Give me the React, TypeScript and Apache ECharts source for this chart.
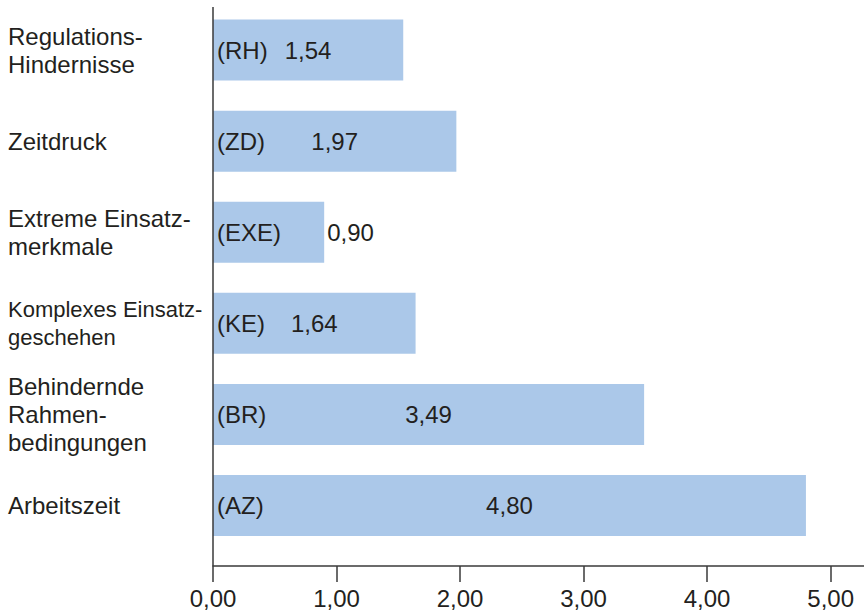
import React, { useEffect, useRef } from "react";
import * as echarts from "echarts";

const categories = [
  "Regulations-\nHindernisse",
  "Zeitdruck",
  "Extreme Einsatz-\nmerkmale",
  "Komplexes Einsatz-\ngeschehen",
  "Behindernde\nRahmen-\nbedingungen",
  "Arbeitszeit",
];
const codes = ["(RH)", "(ZD)", "(EXE)", "(KE)", "(BR)", "(AZ)"];
const values = [1.54, 1.97, 0.9, 1.64, 3.49, 4.8];
const tickValues = [0, 1, 2, 3, 4, 5];

const FONT = "'Liberation Sans', Arial, Helvetica, sans-serif";
const FONT_SIZE = 24;
const TEXT = "#231f20";
const BAR = "#abc8e9";
const AXIS = "#3a3a3a";

const GRID_LEFT = 213;
const GRID_TOP = 4.5;
const GRID_BOTTOM = 62;
const X_OFFSET = 15;
const AXIS_TOP = 7;
// widest category label: set a touch smaller so it stays clear of the axis
const LONG_LABEL_SIZE = 22;

const fmt = (v: number) => v.toFixed(2).replace(".", ",");

export default function App() {
  const ref = useRef<HTMLDivElement>(null);

  useEffect(() => {
    if (!ref.current) return;
    const chart = echarts.init(ref.current, undefined, { renderer: "svg" });
    const h = 613;
    const axisBottom = h - GRID_BOTTOM + X_OFFSET;

    const labelStyle = {
      align: "left",
      color: TEXT,
      fontSize: FONT_SIZE,
      lineHeight: 28,
      fontFamily: FONT,
    };
    const yData = categories.map((c) =>
      c.startsWith("Komplexes")
        ? { value: c, textStyle: { ...labelStyle, fontSize: LONG_LABEL_SIZE } }
        : c
    );

    chart.setOption({
      animation: false,
      textStyle: { fontFamily: FONT },
      grid: {
        left: GRID_LEFT,
        right: 0,
        top: GRID_TOP,
        bottom: GRID_BOTTOM,
        containLabel: false,
        outerBoundsMode: "none",
      },
      xAxis: {
        type: "value",
        min: 0,
        max: 5.27,
        offset: X_OFFSET,
        splitLine: { show: false },
        axisLine: { show: true, lineStyle: { color: AXIS, width: 1.5 } },
        axisTick: { show: true, length: 16, customValues: tickValues, lineStyle: { color: AXIS, width: 1.5 } },
        axisLabel: {
          customValues: tickValues,
          formatter: (v: number) => fmt(v),
          color: TEXT,
          fontSize: FONT_SIZE,
          fontFamily: FONT,
          margin: 20,
        },
      },
      yAxis: {
        type: "category",
        data: yData,
        inverse: true,
        axisLine: { show: false },
        axisTick: { show: false },
        axisLabel: {
          ...labelStyle,
          margin: GRID_LEFT - 8,
        },
      },
      graphic: [
        {
          type: "line",
          shape: { x1: GRID_LEFT, y1: AXIS_TOP, x2: GRID_LEFT, y2: axisBottom },
          style: { stroke: AXIS, lineWidth: 1.5 },
          z: 10,
        },
      ],
      series: [
        {
          type: "bar",
          barWidth: 61,
          itemStyle: { color: BAR },
          data: values.map((v) => ({
            value: v,
            label:
              v < 1.2
                ? { position: "right", distance: 3 }
                : { position: "inside" },
          })),
          label: {
            show: true,
            formatter: (p: any) => fmt(p.value),
            color: TEXT,
            fontSize: FONT_SIZE,
            fontFamily: FONT,
          },
        },
        {
          type: "bar",
          barWidth: 61,
          barGap: "-100%",
          itemStyle: { color: "transparent" },
          silent: true,
          data: values,
          label: {
            show: true,
            position: "insideLeft",
            distance: 4,
            formatter: (p: any) => codes[p.dataIndex],
            color: TEXT,
            fontSize: FONT_SIZE,
            fontFamily: FONT,
          },
        },
      ],
    });
    return () => chart.dispose();
  }, []);

  return (
    <div
      ref={ref}
      style={{ position: "fixed", left: 0, top: 0, width: 864, height: 613, background: "#fff" }}
    />
  );
}
